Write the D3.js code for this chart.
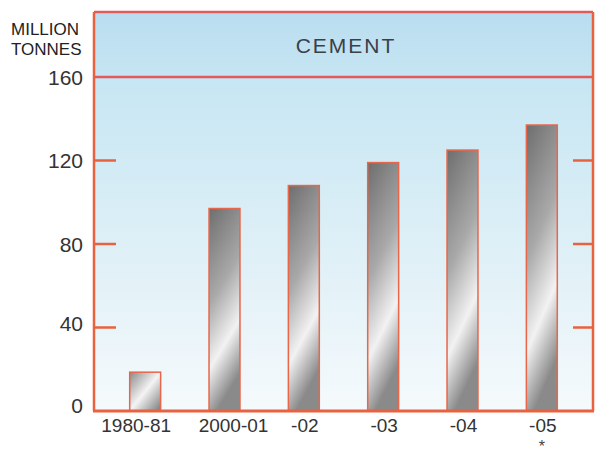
<!DOCTYPE html>
<html><head><meta charset="utf-8">
<script src="https://cdn.jsdelivr.net/npm/d3@7"></script>
<style>body{margin:0;background:#fff;} text{font-family:"Liberation Sans",Arial,sans-serif;}</style>
</head><body>
<svg id="c" width="596" height="456"></svg>
<script>
const categories = ["1980-81","2000-01","-02","-03","-04","-05"];
const values = [18.6, 97, 108, 119, 125, 137];
const yTicks = [0, 40, 80, 120, 160];
const title = "CEMENT";
const unitLines = ["MILLION","TONNES"];

const svg = d3.select("#c");
const L = 94, R = 593, T = 12, H0 = 77, B = 411;
const x = d3.scaleBand().domain(categories).range([L, R]).paddingInner(0.61).paddingOuter(0.45);
const y = d3.scaleLinear().domain([0, 160]).range([B, H0]);

const defs = svg.append("defs");
const bg = defs.append("linearGradient").attr("id","bg").attr("x1",0).attr("y1",0).attr("x2",0).attr("y2",1);
bg.append("stop").attr("offset","0%").attr("stop-color","#c6e6f3");
bg.append("stop").attr("offset","55%").attr("stop-color","#e0f0f7");
bg.append("stop").attr("offset","100%").attr("stop-color","#f5fafc");
const hb = defs.append("linearGradient").attr("id","hb").attr("x1",0).attr("y1",0).attr("x2",0).attr("y2",1);
hb.append("stop").attr("offset","0%").attr("stop-color","#b9ddf0");
hb.append("stop").attr("offset","100%").attr("stop-color","#c6e5f2");
const bar = defs.append("linearGradient").attr("id","bar").attr("x1",0).attr("y1",0).attr("x2",0.25).attr("y2",1);
bar.append("stop").attr("offset","0%").attr("stop-color","#6e6e6e");
bar.append("stop").attr("offset","45%").attr("stop-color","#a9a9a9");
bar.append("stop").attr("offset","75%").attr("stop-color","#f2f2f2");
bar.append("stop").attr("offset","100%").attr("stop-color","#8a8a8a");
const bar2 = defs.append("linearGradient").attr("id","bar2").attr("x1",0).attr("y1",0).attr("x2",1).attr("y2",1);
bar2.append("stop").attr("offset","0%").attr("stop-color","#8a8a8a");
bar2.append("stop").attr("offset","50%").attr("stop-color","#f4f4f4");
bar2.append("stop").attr("offset","100%").attr("stop-color","#7a7a7a");

// backgrounds
svg.append("rect").attr("x",L).attr("y",T).attr("width",R-L).attr("height",H0-T).attr("fill","url(#hb)");
svg.append("rect").attr("x",L).attr("y",H0).attr("width",R-L).attr("height",B-H0).attr("fill","url(#bg)");

// bars
svg.selectAll("rect.bar").data(values).join("rect").attr("class","bar")
  .attr("x",(d,i)=>x(categories[i])).attr("width",x.bandwidth())
  .attr("y",d=>y(d)).attr("height",d=>B-y(d))
  .attr("fill",(d,i)=> i===0 ? "url(#bar2)" : "url(#bar)")
  .attr("stroke","#e8664a").attr("stroke-width",1.5);

// frame
const red = "#e25a5c", orange = "#e8623f";
svg.append("line").attr("x1",L).attr("x2",R).attr("y1",T).attr("y2",T).attr("stroke",red).attr("stroke-width",2.5);
svg.append("line").attr("x1",L).attr("x2",R).attr("y1",H0).attr("y2",H0).attr("stroke",red).attr("stroke-width",2.5);
svg.append("line").attr("x1",L).attr("x2",L).attr("y1",T).attr("y2",B).attr("stroke",orange).attr("stroke-width",2.5);
svg.append("line").attr("x1",R).attr("x2",R).attr("y1",T).attr("y2",B).attr("stroke",orange).attr("stroke-width",2.5);
svg.append("line").attr("x1",L-1).attr("x2",R+1).attr("y1",B).attr("y2",B).attr("stroke",orange).attr("stroke-width",3);

// ticks
const inner = yTicks.filter(t=>t>0 && t<160);
svg.selectAll("line.lt").data(inner).join("line").attr("class","lt")
  .attr("x1",L).attr("x2",L+22).attr("y1",d=>y(d)).attr("y2",d=>y(d)).attr("stroke",orange).attr("stroke-width",2.5);
svg.selectAll("line.rt").data(inner).join("line").attr("class","rt")
  .attr("x1",R-20).attr("x2",R).attr("y1",d=>y(d)).attr("y2",d=>y(d)).attr("stroke",orange).attr("stroke-width",2.5);

// y labels
svg.selectAll("text.yl").data(yTicks).join("text").attr("class","yl")
  .attr("x",83).attr("y",d=>y(d)+(d===0?-6:(d===40?-4:0))).attr("dy","0.36em").attr("text-anchor","end")
  .attr("font-size",21).attr("fill","#333").text(d=>d);
svg.selectAll("text.ul").data(unitLines).join("text").attr("class","ul")
  .attr("x",11).attr("y",(d,i)=>35+i*20).attr("text-anchor","start")
  .attr("font-size",17).attr("fill","#222").text(d=>d);

// x labels (first two nudged apart as in the original)
svg.selectAll("text.xl").data(categories).join("text").attr("class","xl")
  .attr("x",d=>x(d)+x.bandwidth()/2).attr("dx",(d,i)=> i===0 ? -9 : (i===1 ? 9 : 1))
  .attr("y",432).attr("text-anchor","middle")
  .attr("font-size",19).attr("fill","#333").text(d=>d);
svg.append("text").attr("x",x("-05")+x.bandwidth()/2).attr("y",452).attr("text-anchor","middle")
  .attr("font-size",16).attr("fill","#444").text("*");

// title
svg.append("text").attr("x",346).attr("y",53).attr("text-anchor","middle")
  .attr("font-size",21).attr("letter-spacing",2).attr("fill","#3a4048").text(title);
</script>
</body></html>
